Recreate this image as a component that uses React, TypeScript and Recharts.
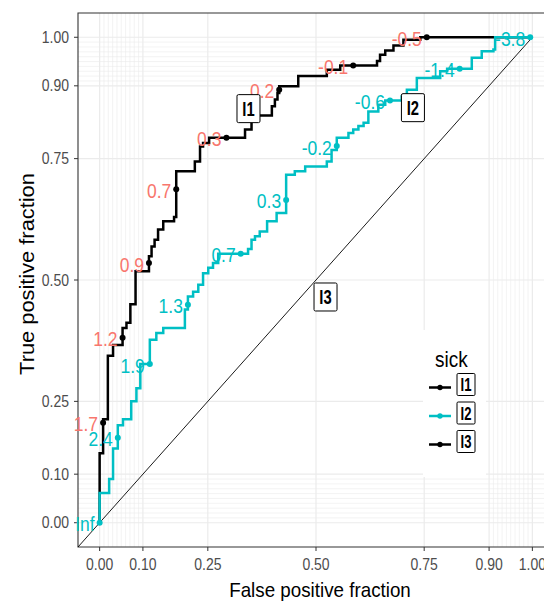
import React from 'react';
import {
  ComposedChart,
  Line,
  Scatter,
  XAxis,
  YAxis,
  CartesianGrid,
  ReferenceArea,
} from 'recharts';

// ROC step curves (fpr, tpr), one point per corner, drawn with stepBefore
const I1_FPR = [0, 0.008, 0.019, 0.031, 0.053, 0.062, 0.071, 0.083, 0.114, 0.12, 0.127, 0.135, 0.147, 0.172, 0.177, 0.22, 0.232, 0.239, 0.253, 0.336, 0.351, 0.398, 0.405, 0.411, 0.415, 0.459, 0.525, 0.556, 0.641, 0.648, 0.66, 0.679, 0.702, 0.741, 1];
const I1_TPR = [0, 0.143, 0.213, 0.344, 0.366, 0.401, 0.412, 0.45, 0.518, 0.549, 0.569, 0.583, 0.604, 0.621, 0.63, 0.724, 0.744, 0.775, 0.782, 0.793, 0.81, 0.839, 0.858, 0.872, 0.885, 0.899, 0.92, 0.933, 0.942, 0.951, 0.964, 0.973, 0.983, 0.995, 1];

const I2_FPR = [0, 0.022, 0.031, 0.042, 0.054, 0.073, 0.085, 0.094, 0.116, 0.131, 0.147, 0.197, 0.204, 0.216, 0.228, 0.239, 0.251, 0.262, 0.274, 0.343, 0.351, 0.359, 0.37, 0.387, 0.409, 0.431, 0.451, 0.475, 0.525, 0.536, 0.548, 0.575, 0.586, 0.598, 0.61, 0.621, 0.644, 0.66, 0.698, 0.71, 0.733, 0.787, 0.803, 0.86, 0.883, 0.91, 0.914, 1];
const I2_TPR = [0, 0.061, 0.09, 0.153, 0.201, 0.213, 0.25, 0.277, 0.327, 0.377, 0.391, 0.401, 0.439, 0.466, 0.476, 0.49, 0.514, 0.525, 0.535, 0.554, 0.564, 0.583, 0.59, 0.6, 0.621, 0.638, 0.717, 0.724, 0.734, 0.744, 0.768, 0.793, 0.803, 0.81, 0.817, 0.824, 0.847, 0.861, 0.87, 0.878, 0.892, 0.916, 0.93, 0.935, 0.958, 0.971, 0.975, 1];

const I3_FPR = [-0.05, 1];
const I3_TPR = [-0.05, 1];

// cutoff points with labels
const I1_CUT_FPR = [0.008, 0.053, 0.114, 0.177, 0.293, 0.415, 0.586, 0.756];
const I1_CUT_TPR = [0.206, 0.381, 0.535, 0.687, 0.793, 0.892, 0.942, 1];
const I1_CUT_LABELS = ['1.7', '1.2', '0.9', '0.7', '0.3', '0.2', '-0.1', '-0.5'];

const I2_CUT_FPR = [0, 0.042, 0.116, 0.204, 0.326, 0.431, 0.548, 0.671, 0.832, 0.995];
const I2_CUT_TPR = [0, 0.175, 0.327, 0.449, 0.554, 0.665, 0.776, 0.87, 0.935, 1];
const I2_CUT_LABELS = ['Inf', '2.4', '1.9', '1.3', '0.7', '0.3', '-0.2', '-0.6', '-1.4', '-3.8'];

// direct labels of the markers
const MARKERS = ['I1', 'I2', 'I3'];
const MARKER_COLORS = ['#000000', '#00BFC4', '#000000'];
const MARKER_LABEL_FPR = [0.344, 0.724, 0.522];
const MARKER_LABEL_TPR = [0.853, 0.855, 0.465];

const MAJOR_BREAKS = [0, 0.1, 0.25, 0.5, 0.75, 0.9, 1];
const MINOR_BREAKS = [0.01, 0.02, 0.03, 0.04, 0.05, 0.06, 0.07, 0.08, 0.09, 0.91, 0.92, 0.93, 0.94, 0.95, 0.96, 0.97, 0.98, 0.99];

const FONT = '"Liberation Sans", Arial, sans-serif';
const SY = 1.12;
const CYAN = '#00BFC4';
const SALMON = '#F8766D';

const zip = (xs: number[], ys: number[]) => xs.map((x, i) => ({ x, y: ys[i] }));
const i1Data = zip(I1_FPR, I1_TPR);
const i2Data = zip(I2_FPR, I2_TPR);
const i3Data = zip(I3_FPR, I3_TPR);
const i1Cuts = I1_CUT_FPR.map((x, i) => ({ x, y: I1_CUT_TPR[i], label: I1_CUT_LABELS[i] }));
const i2Cuts = I2_CUT_FPR.map((x, i) => ({ x, y: I2_CUT_TPR[i], label: I2_CUT_LABELS[i] }));
const markerLabels = MARKERS.map((name, i) => ({ x: MARKER_LABEL_FPR[i], y: MARKER_LABEL_TPR[i], name }));

const XTick = (props: any) => {
  const { x, y, payload } = props;
  return (
    <g transform={`translate(${x},${y}) scale(1,${SY})`}>
      <text textAnchor="middle" dy="0.71em" fontSize={14} fill="#4D4D4D" fontFamily={FONT}>
        {Number(payload.value).toFixed(2)}
      </text>
    </g>
  );
};

const YTick = (props: any) => {
  const { x, y, payload } = props;
  return (
    <g transform={`translate(${x},${y}) scale(1,${SY})`}>
      <text textAnchor="end" dy="0.36em" fontSize={14} fill="#4D4D4D" fontFamily={FONT}>
        {Number(payload.value).toFixed(2)}
      </text>
    </g>
  );
};

const XTitle = () => (
  <g transform={`translate(320,597) scale(1,${SY})`}>
    <text textAnchor="middle" fontSize={18.8} fill="#000" fontFamily={FONT}>
      False positive fraction
    </text>
  </g>
);

const YTitle = () => (
  <g transform={`translate(27,274) scale(1,${SY}) rotate(-90)`}>
    <text textAnchor="middle" dy="0.36em" fontSize={19.5} fill="#000" fontFamily={FONT}>
      True positive fraction
    </text>
  </g>
);

const makeCut = (dotColor: string, textColor: string) => (props: any) => {
  const { cx, cy, payload } = props;
  return (
    <g>
      <circle cx={cx} cy={cy} r={3} fill={dotColor} />
      <g transform={`translate(${cx - 5},${cy + 1.5}) scale(1,${SY})`}>
        <text textAnchor="end" dy="0.36em" fontSize={17.5} fill={textColor} fontFamily={FONT}>
          {payload.label}
        </text>
      </g>
    </g>
  );
};

const BoxLabel = (props: any) => {
  const { cx, cy, payload } = props;
  const w = 23;
  const h = 28;
  return (
    <g>
      <rect x={cx - w / 2} y={cy - h / 2} width={w} height={h} rx={1.5} fill="#fff" stroke="#000" strokeWidth={1} />
      <g transform={`translate(${cx},${cy}) scale(0.82,1.15)`}>
        <text textAnchor="middle" dy="0.36em" fontSize={18} fontWeight="bold" fill="#000" fontFamily={FONT}>
          {payload.name}
        </text>
      </g>
    </g>
  );
};

const LegendBox = () => (
  <svg width={63} height={147} style={{ position: 'absolute', left: 423, top: 330 }}>
    <rect x={0} y={0} width={63} height={147} fill="#fff" />
    <g transform={`translate(12,36.7) scale(1,${SY})`}>
      <text fontSize={19} fill="#000" fontFamily={FONT}>sick</text>
    </g>
    {MARKERS.map((name, i) => {
      const ky = 57.5 + 28.5 * i;
      const by = ky - 3;
      return (
        <g key={name}>
          <line x1={6} x2={28} y1={ky} y2={ky} stroke={MARKER_COLORS[i]} strokeWidth={2.5} />
          <circle cx={17} cy={ky} r={2.7} fill={MARKER_COLORS[i]} />
          <rect x={34} y={by - 11} width={18} height={22} rx={1.2} fill="#fff" stroke="#000" strokeWidth={1} />
          <g transform={`translate(43,${by}) scale(0.82,1.15)`}>
            <text textAnchor="middle" dy="0.36em" fontSize={16} fontWeight="bold" fill="#000" fontFamily={FONT}>
              {name}
            </text>
          </g>
        </g>
      );
    })}
  </svg>
);

export default function App() {
  return (
    <div
      style={{
        position: 'absolute',
        left: 0,
        top: 0,
        width: 544,
        height: 603,
        overflow: 'hidden',
        background: '#fff',
      }}
    >
      <ComposedChart width={554} height={603} margin={{ top: 13, right: 0, bottom: 0, left: 0 }}>
        <CartesianGrid
          stroke="#EBEBEB"
          strokeWidth={0.6}
          horizontalValues={MINOR_BREAKS}
          verticalValues={MINOR_BREAKS}
        />
        <CartesianGrid
          stroke="#EBEBEB"
          strokeWidth={1.2}
          horizontalValues={MAJOR_BREAKS}
          verticalValues={MAJOR_BREAKS}
        />
        <XAxis
          type="number"
          dataKey="x"
          domain={[-0.05, 1.05]}
          ticks={MAJOR_BREAKS}
          interval={0}
          axisLine={false}
          tickLine={{ stroke: '#333333' }}
          tickSize={4}
          tickMargin={8}
          tick={XTick}
          height={56}
          label={{ content: XTitle }}
        />
        <YAxis
          type="number"
          dataKey="y"
          domain={[-0.05, 1.05]}
          ticks={MAJOR_BREAKS}
          interval={0}
          axisLine={false}
          tickLine={{ stroke: '#333333' }}
          tickSize={4}
          tickMargin={5}
          tick={YTick}
          width={78}
          label={{ content: YTitle }}
        />
        <ReferenceArea
          x1={-0.05}
          x2={1.05}
          y1={-0.05}
          y2={1.05}
          fill="none"
          fillOpacity={0}
          stroke="#333333"
          strokeWidth={1.1}
          ifOverflow="visible"
        />
        <Line data={i3Data} dataKey="y" type="linear" stroke="#000" strokeWidth={0.9} dot={false} isAnimationActive={false} />
        <Line data={i1Data} dataKey="y" type="stepBefore" stroke="#000" strokeWidth={2.5} dot={false} isAnimationActive={false} />
        <Line data={i2Data} dataKey="y" type="stepBefore" stroke={CYAN} strokeWidth={2.5} dot={false} isAnimationActive={false} />
        <Scatter data={i1Cuts} dataKey="y" shape={makeCut('#000', SALMON)} isAnimationActive={false} />
        <Scatter data={i2Cuts} dataKey="y" shape={makeCut(CYAN, CYAN)} isAnimationActive={false} />
        <Scatter data={markerLabels} dataKey="y" shape={BoxLabel} isAnimationActive={false} />
      </ComposedChart>
      <LegendBox />
    </div>
  );
}
